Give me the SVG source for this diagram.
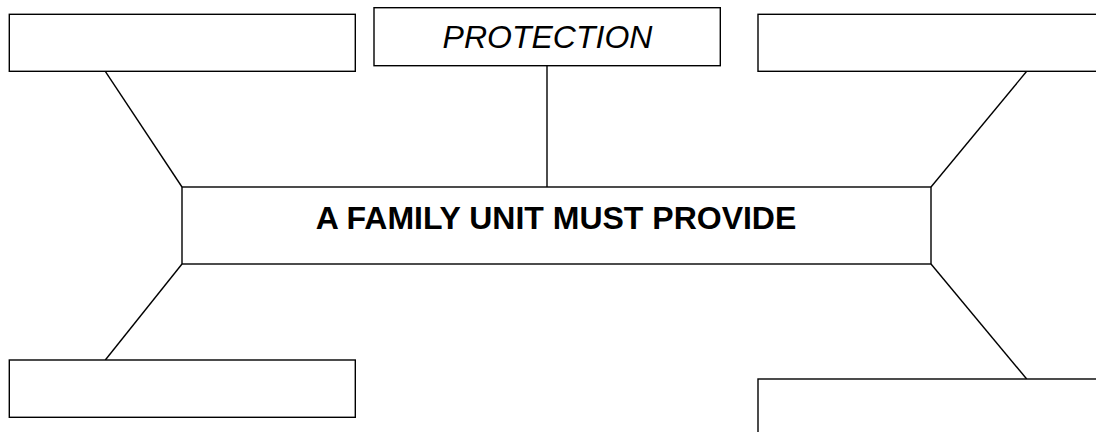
<svg xmlns="http://www.w3.org/2000/svg" width="1096" height="432" viewBox="0 0 1096 432">
<style>
.box{fill:#fff;stroke:#000;stroke-width:1.4}
.ln{stroke:#000;stroke-width:1.4;fill:none}
.t{font-family:"Liberation Sans",Arial,sans-serif;font-size:32px;fill:#000;text-anchor:middle}
</style>
<rect width="1096" height="432" fill="#fff"/>
<g id="connectors">
<line class="ln" x1="105.3" y1="71.3" x2="182" y2="187"/>
<line class="ln" x1="547" y1="65.7" x2="547" y2="187"/>
<line class="ln" x1="1026.7" y1="71.3" x2="931" y2="187"/>
<line class="ln" x1="182" y1="264" x2="105.3" y2="360"/>
<line class="ln" x1="931" y1="264" x2="1026.7" y2="379"/>
</g>
<g id="node-top-left"><rect class="box" x="9.3" y="14.3" width="346" height="57"/></g>
<g id="node-protection"><rect class="box" x="374" y="7.7" width="346.3" height="58"/><text class="t" x="547.5" y="48.3" font-style="italic">PROTECTION</text></g>
<g id="node-top-right"><rect class="box" x="758" y="14.3" width="346" height="57"/></g>
<g id="node-center"><rect class="box" x="182" y="187" width="749" height="77"/><text class="t" x="556" y="229.3" font-weight="bold">A FAMILY UNIT MUST PROVIDE</text></g>
<g id="node-bottom-left"><rect class="box" x="9.3" y="360" width="346" height="57.3"/></g>
<g id="node-bottom-right"><rect class="box" x="758" y="379" width="346" height="60"/></g>
</svg>
